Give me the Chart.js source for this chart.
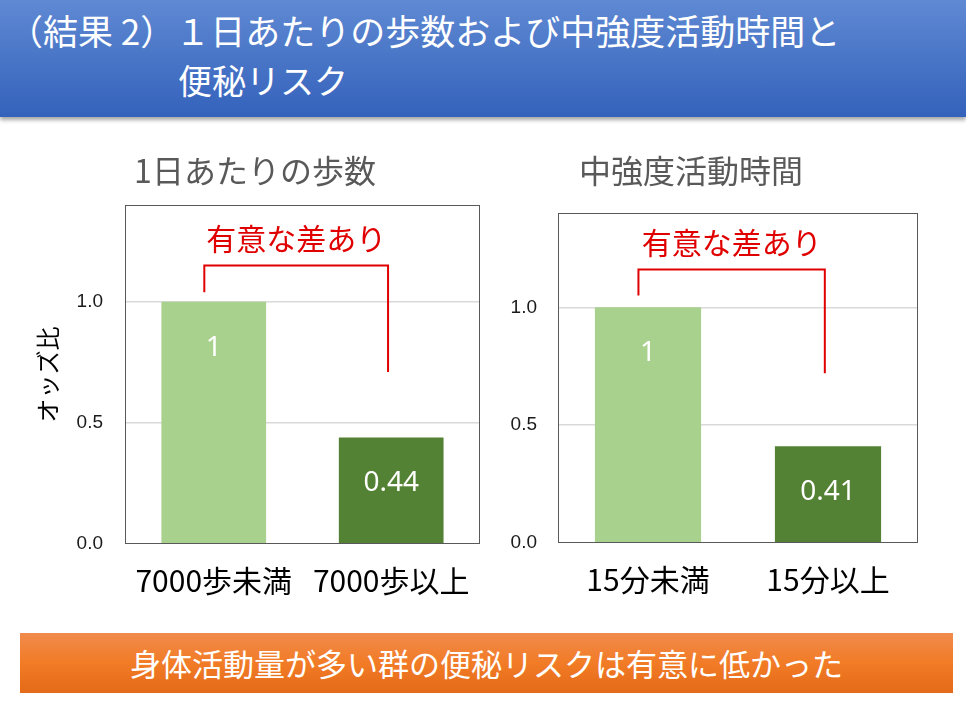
<!DOCTYPE html>
<html lang="ja">
<head>
<meta charset="utf-8">
<title>1日あたりの歩数および中強度活動時間と便秘リスク</title>
<script src="https://cdn.jsdelivr.net/npm/chart.js@4.4.1/dist/chart.umd.min.js"></script>
<style>
  html, body { margin: 0; padding: 0; background: #fff; }
  body { width: 966px; height: 727px; position: relative; overflow: hidden;
         font-family: "Noto Sans CJK JP", sans-serif; }
  #header { position: absolute; left: 0; top: 0; width: 966px; height: 117px;
            background: linear-gradient(#5f89d3, #3462bb);
            box-shadow: 0 3px 4px rgba(0, 0, 0, 0.35); color: #fff; }
  #header div { position: absolute; font-size: 35px; line-height: 1; white-space: nowrap; }
  #header .t1 { left: 8px; top: 12px; }
  #header .t2 { left: 178px; top: 63px; font-size: 34px; }
  canvas { position: absolute; top: 140px; }
  #steps-chart { left: 20px; }
  #mvpa-chart { left: 464px; }
  #banner { position: absolute; left: 20px; top: 633px; width: 933px; height: 60px;
            background: linear-gradient(#f08b4c, #f27b26 50%, #e36b19);
            color: #fff; font-size: 31px; line-height: 60px; text-align: center; }
</style>
</head>
<body>
<div id="header">
  <div class="t1">（結果 2）１日あたりの歩数および中強度活動時間と</div>
  <div class="t2">便秘リスク</div>
</div>
<canvas id="steps-chart" width="470" height="470"></canvas>
<canvas id="mvpa-chart" width="480" height="470"></canvas>
<div id="banner">身体活動量が多い群の便秘リスクは有意に低かった</div>

<script>
// data
const stepLabels = ['7000歩未満', '7000歩以上'];
const stepOdds = [1, 0.44];
const mvpaLabels = ['15分未満', '15分以上'];
const mvpaOdds = [1, 0.41];
const yTicks = [0, 0.5, 1.0];
const yMax = 1.4;
const barColors = ['#a9d18e', '#548235'];
// bracket heights in odds units: top, left foot, right foot
const stepBracket = [1.15, 1.04, 0.71];
const mvpaBracket = [1.16, 1.05, 0.72];
const sigText = '有意な差あり';

const jp = '"Noto Sans CJK JP", sans-serif';

// value labels, plot frame and the red bracket
const slideMarks = {
  id: 'slideMarks',
  afterDatasetsDraw(chart, args, opts) {
    const { ctx, chartArea: a, scales: { y } } = chart;
    const meta = chart.getDatasetMeta(0);
    const vals = chart.data.datasets[0].data;
    ctx.save();
    ctx.textAlign = 'center';
    ctx.textBaseline = 'middle';
    ctx.fillStyle = '#fff';
    ctx.font = '28px "Noto Sans", sans-serif';
    meta.data.forEach((bar, i) => ctx.fillText(String(vals[i]), bar.x, bar.y + 46));

    ctx.strokeStyle = '#595959';
    ctx.lineWidth = 1;
    ctx.strokeRect(Math.round(a.left) + 0.5, Math.round(a.top) + 0.5,
                   Math.round(a.width) - 1, Math.round(a.height) - 1);

    const b = opts.bracket;
    const w = meta.data[0].width;
    const x0 = meta.data[0].x - w * 0.09;
    const x1 = meta.data[1].x - w * 0.03;
    const yt = y.getPixelForValue(b[0]);
    ctx.strokeStyle = '#e00000';
    ctx.lineWidth = 2;
    ctx.beginPath();
    ctx.moveTo(x0, y.getPixelForValue(b[1]));
    ctx.lineTo(x0, yt);
    ctx.lineTo(x1, yt);
    ctx.lineTo(x1, y.getPixelForValue(b[2]));
    ctx.stroke();
    ctx.fillStyle = '#e00000';
    ctx.font = '30px ' + jp;
    ctx.fillText(sigText, (x0 + x1) / 2, yt - 27);
    ctx.restore();
  }
};

function makeConfig(s) {
  return {
    type: 'bar',
    data: {
      labels: s.labels,
      datasets: [{
        data: s.values,
        backgroundColor: barColors,
        categoryPercentage: 1,
        barPercentage: 0.59
      }]
    },
    options: {
      responsive: false,
      animation: false,
      layout: { padding: { left: s.padL, right: s.padR, top: 0, bottom: 0 } },
      plugins: {
        legend: { display: false },
        tooltip: { enabled: false },
        title: {
          display: true,
          text: s.title,
          color: '#595959',
          font: { family: jp, size: 32, weight: 'normal' },
          padding: { top: 12, bottom: s.titleGap }
        },
        slideMarks: { bracket: s.bracket }
      },
      scales: {
        x: {
          grid: { display: false, drawTicks: false, tickLength: 0 },
          border: { display: false },
          ticks: { color: '#000', font: { family: jp, size: 30 }, padding: 19, maxRotation: 0 },
          afterFit: (scale) => { scale.height = s.xHeight; }
        },
        y: {
          min: 0,
          max: yMax,
          afterBuildTicks: (scale) => { scale.ticks = yTicks.map(v => ({ value: v })); },
          grid: {
            drawTicks: false,
            tickLength: 0,
            lineWidth: 1.5,
            color: (c) => (c.tick && c.tick.value > 0 ? '#d9d9d9' : 'rgba(0,0,0,0)')
          },
          border: { display: false },
          ticks: {
            color: '#1a1a1a',
            font: { family: '"Liberation Sans", Arial, sans-serif', size: 19 },
            padding: s.tickPad,
            callback: (v) => Number(v).toFixed(1)
          },
          title: {
            display: !!s.yTitle,
            text: s.yTitle || '',
            color: '#000',
            font: { family: jp, size: 24 },
            padding: { top: 7, bottom: 0 }
          },
          afterFit: (scale) => { scale.width = s.yWidth; }
        }
      }
    },
    plugins: [slideMarks]
  };
}

new Chart(document.getElementById('steps-chart'), makeConfig({
  labels: stepLabels, values: stepOdds, bracket: stepBracket,
  title: '1日あたりの歩数', yTitle: 'オッズ比',
  padL: 6, padR: 6, yWidth: 99, tickPad: 22, titleGap: 14.6, xHeight: 66
}));

new Chart(document.getElementById('mvpa-chart'), makeConfig({
  labels: mvpaLabels, values: mvpaOdds, bracket: mvpaBracket,
  title: '中強度活動時間', yTitle: null,
  padL: 0, padR: 26, yWidth: 94, tickPad: 21, titleGap: 22.6, xHeight: 67
}));
</script>
</body>
</html>
